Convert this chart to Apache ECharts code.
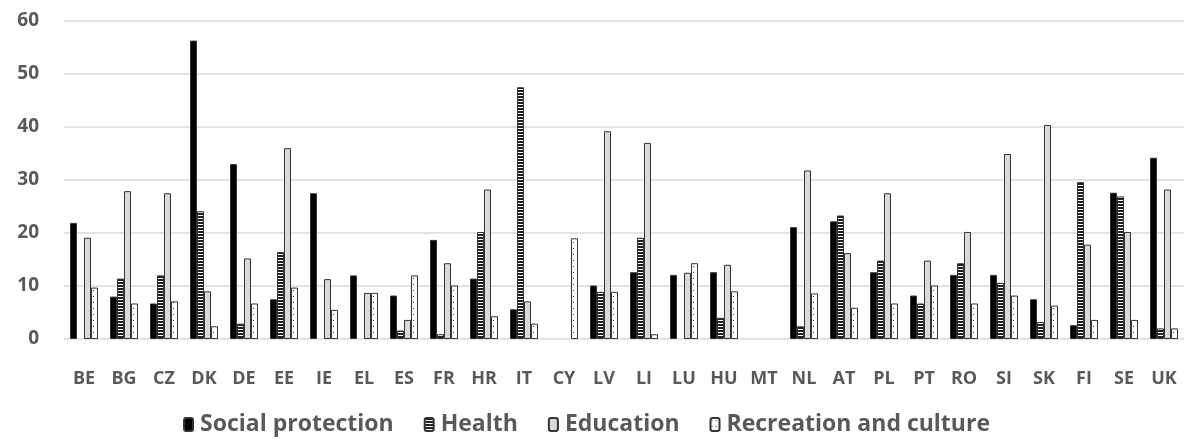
<!DOCTYPE html>
<html>
<head>
<meta charset="utf-8">
<script src="https://cdn.jsdelivr.net/npm/echarts@6/dist/echarts.min.js"></script>
<style>
html,body{margin:0;padding:0;background:#fff;}
#chart{width:1184px;height:444px;}
</style>
</head>
<body>
<div id="chart"></div>
<script>
const categories = ['BE','BG','CZ','DK','DE','EE','IE','EL','ES','FR','HR','IT','CY','LV','LI','LU','HU','MT','NL','AT','PL','PT','RO','SI','SK','FI','SE','UK'];
const socialProtection = [21.9,8.0,6.7,56.3,33.0,7.5,27.5,12.0,8.2,18.7,11.4,5.6,null,10.1,12.6,12.1,12.6,null,21.1,22.2,12.6,8.2,12.1,12.1,7.5,2.6,27.6,34.2];
const health = [null,11.4,12.0,24.1,2.9,16.4,null,null,1.6,0.9,20.2,47.5,null,8.9,19.1,null,4.0,null,2.4,23.3,14.8,6.7,14.3,10.6,3.2,29.6,26.9,2.0];
const education = [19.1,27.9,27.5,9.0,15.2,36.0,11.3,8.7,3.6,14.3,28.2,7.1,null,39.2,37.0,12.5,14.0,null,31.8,16.2,27.5,14.8,20.2,34.9,40.4,17.8,20.2,28.2];
const recreation = [9.7,6.7,7.1,2.4,6.7,9.7,5.5,8.7,12.0,10.1,4.3,2.9,19.0,8.9,0.9,14.3,9.0,null,8.6,5.9,6.7,10.1,6.7,8.2,6.3,3.6,3.6,2.0];
const seriesNames = ['Social protection','Health','Education','Recreation and culture'];
const yTicks = [0,10,20,30,40,50,60];
const titleText = '(% of the total expenditure)';

function makePattern(w, h, draw) {
  const c = document.createElement('canvas');
  c.width = w; c.height = h;
  const ctx = c.getContext('2d');
  draw(ctx);
  return {image: c, repeat: 'repeat'};
}
const healthPattern = makePattern(4, 3, ctx => {
  ctx.fillStyle = '#ffffff'; ctx.fillRect(0,0,4,3);
  ctx.fillStyle = '#222222'; ctx.fillRect(0,0,4,2);
});
const recPattern = makePattern(4, 6, ctx => {
  ctx.fillStyle = '#ffffff'; ctx.fillRect(0,0,4,6);
  ctx.fillStyle = '#333333'; ctx.fillRect(1,2,1,1);
});

const chart = echarts.init(document.getElementById('chart'));
const textColor = '#595959';
const fills = ['#000000', healthPattern, '#d9d9d9', recPattern];
const data = [socialProtection, health, education, recreation];

const option = {
  animation: false,
  grid: {left: 64, right: 0, top: 21, bottom: 105, containLabel: false},
  legend: {
    data: seriesNames,
    bottom: 3,
    right: 189,
    itemWidth: 9,
    itemHeight: 13,
    itemGap: 30,
    textStyle: {color: textColor, fontFamily: 'Open Sans', fontWeight: 'bold', fontSize: 23, padding: [0,0,0,2]}
  },
  xAxis: {
    type: 'category',
    data: categories,
    axisLine: {show: false},
    axisTick: {show: false},
    axisLabel: {color: textColor, fontFamily: 'Open Sans', fontWeight: 'bold', fontSize: 18, margin: 31, interval: 0}
  },
  yAxis: {
    type: 'value',
    min: yTicks[0],
    max: yTicks[yTicks.length-1],
    interval: 10,
    axisLine: {show: false},
    axisTick: {show: false},
    splitLine: {lineStyle: {color: '#e3e3e3', width: 2}},
    axisLabel: {color: textColor, fontFamily: 'Open Sans', fontWeight: 'bold', fontSize: 19, margin: 25}
  },
  graphic: [{
    type: 'text',
    x: 597,
    y: -22,
    style: {text: titleText, font: 'italic bold 37px "Liberation Serif"', fill: '#000', align: 'left', verticalAlign: 'bottom'}
  }],
  series: seriesNames.map((name, i) => ({
    name: name,
    type: 'bar',
    data: data[i],
    barWidth: 7,
    barGap: '0%',
    itemStyle: {color: fills[i], borderColor: '#333333', borderWidth: 1}
  }))
};
chart.setOption(option);
</script>
</body>
</html>
